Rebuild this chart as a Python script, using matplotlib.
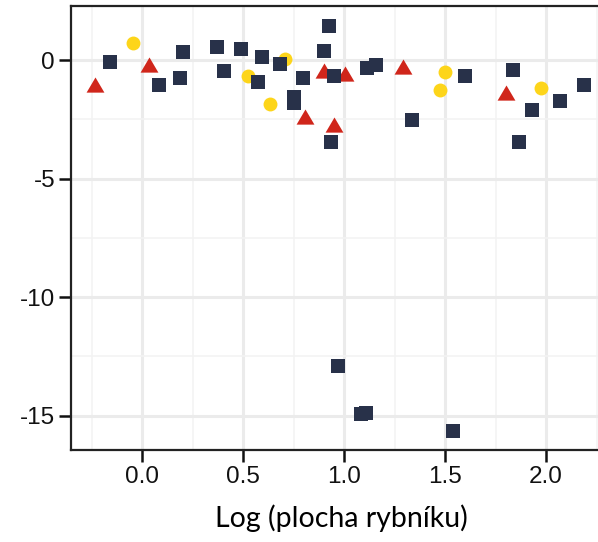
import numpy as np
import matplotlib.pyplot as plt

plt.rcParams['axes.unicode_minus'] = False

# navy squares
sq_x = [-0.162, 0.081, 0.204, 0.188, 0.37, 0.407, 0.49, 0.571, 0.592, 0.68,
        0.749, 0.749, 0.795, 0.898, 0.926, 0.947, 0.936, 1.115, 1.157, 1.596,
        1.338, 1.835, 1.931, 1.866, 2.068, 2.185, 0.967, 1.083, 1.109, 1.541]
sq_y = [-0.1, -1.05, 0.34, -0.75, 0.56, -0.45, 0.45, -0.91, 0.11, -0.18,
        -1.57, -1.83, -0.77, 0.38, 1.45, -0.66, -3.47, -0.35, -0.21, -0.66,
        -2.55, -0.42, -2.11, -3.45, -1.72, -1.07, -12.91, -14.94, -14.88, -15.63]

# yellow circles
ci_x = [-0.048, 0.523, 0.708, 0.634, 1.497, 1.475, 1.974]
ci_y = [0.70, -0.66, 0.04, -1.87, -0.49, -1.27, -1.17]

# red triangles
tr_x = [-0.236, 0.035, 0.804, 0.898, 0.95, 1.005, 1.29, 1.80]
tr_y = [-1.05, -0.21, -2.42, -0.45, -2.74, -0.59, -0.28, -1.38]

# slightly flattened triangle, like the ggplot one
tri = [(-1, -0.8), (1, -0.8), (0, 0.9), (-1, -0.8)]

fig = plt.figure(figsize=(5.98, 5.42), dpi=100)
# the original was cropped on the right, so the axes run past the figure edge
ax = fig.add_axes([71/598, 92/542, 541/598, 444/542])

ax.scatter(ci_x, ci_y, s=100, marker='o', color='#FDD51A', zorder=3, linewidths=0)
ax.scatter(tr_x, tr_y, s=165, marker=tri, color='#D0261B', zorder=3, linewidths=0)
ax.scatter(sq_x, sq_y, s=98, marker='s', color='#283149', zorder=4, linewidths=0)

ax.set_xlim(-0.353, 2.326)
ax.set_ylim(-16.45, 2.28)
ax.set_xticks([0.0, 0.5, 1.0, 1.5, 2.0])
ax.set_xticklabels(['0.0', '0.5', '1.0', '1.5', '2.0'])
ax.set_yticks([0, -5, -10, -15])
ax.set_xticks(np.arange(-0.25, 2.3, 0.5), minor=True)
ax.set_yticks([-2.5, -7.5, -12.5], minor=True)

ax.grid(which='major', color='#EBEBEB', linewidth=2.2, zorder=0)
ax.grid(which='minor', color='#F3F3F3', linewidth=1.2, zorder=0)
ax.set_axisbelow(True)

for s in ['left', 'top', 'bottom']:
    ax.spines[s].set_color('#222222')
    ax.spines[s].set_linewidth(1.6)
ax.spines['right'].set_visible(False)

ax.tick_params(axis='both', which='major', labelsize=17.5, color='#111111',
               length=8.5, width=1.8, labelcolor='#111111', pad=3)
ax.tick_params(axis='both', which='minor', length=0)
for t in ax.get_xticklabels() + ax.get_yticklabels():
    t.set_fontfamily('Liberation Sans')

ax.set_xlabel('Log (plocha rybníku)', fontsize=20.5, family='Lato', labelpad=12)

fig.savefig('out.png', dpi=100)
